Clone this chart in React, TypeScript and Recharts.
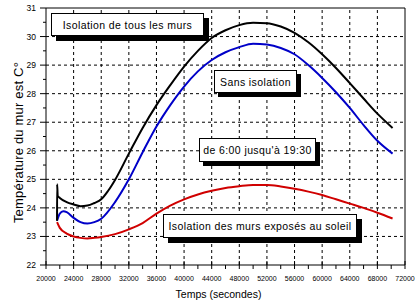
import React from 'react';
import { LineChart, Line, XAxis, YAxis, ReferenceLine } from 'recharts';

// time in seconds (6:00 = 21600 s, 19:30 = 70200 s)
const allWallsTimes = [21600, 21610, 21700, 22000, 23000, 24000, 25000, 26000, 27000, 28000, 29000, 30000, 32000, 34000, 36000, 38000, 40000, 42000, 44000, 46000, 48000, 50000, 52000, 54000, 56000, 58000, 60000, 62000, 64000, 66000, 68000, 70200];
const allWallsTemps = [23.55, 24.83, 24.42, 24.35, 24.2, 24.12, 24.06, 24.08, 24.17, 24.3, 24.6, 24.98, 25.9, 26.8, 27.6, 28.3, 28.95, 29.5, 29.95, 30.22, 30.4, 30.48, 30.47, 30.35, 30.13, 29.8, 29.38, 28.9, 28.37, 27.83, 27.3, 26.8];

const noInsulationTimes = [21600, 22000, 22500, 23000, 24000, 25000, 26000, 27000, 28000, 30000, 32000, 34000, 36000, 38000, 40000, 42000, 44000, 46000, 48000, 50000, 52000, 54000, 56000, 58000, 60000, 62000, 64000, 66000, 68000, 70200];
const noInsulationTemps = [23.55, 23.8, 23.88, 23.85, 23.65, 23.5, 23.45, 23.5, 23.62, 24.2, 25.0, 25.95, 26.85, 27.6, 28.25, 28.78, 29.18, 29.45, 29.63, 29.75, 29.72, 29.6, 29.38, 29.0, 28.55, 28.05, 27.5, 26.9, 26.35, 25.9];

const sunWallsTimes = [21600, 22000, 23000, 24000, 25000, 26000, 27000, 28000, 30000, 32000, 34000, 36000, 38000, 40000, 42000, 44000, 46000, 48000, 50000, 52000, 54000, 56000, 58000, 60000, 62000, 64000, 66000, 68000, 70200];
const sunWallsTemps = [23.5, 23.3, 23.1, 23.0, 22.95, 22.93, 22.95, 22.98, 23.08, 23.25, 23.47, 23.8, 24.08, 24.3, 24.47, 24.6, 24.7, 24.76, 24.8, 24.8, 24.75, 24.67, 24.57, 24.45, 24.3, 24.15, 24.0, 23.83, 23.63];

const yTicks = [22, 22.5, 23, 23.5, 24, 24.5, 25, 25.5, 26, 26.5, 27, 27.5, 28, 28.5, 29, 29.5, 30, 30.5, 31];
const xTicks = [20000, 22000, 24000, 26000, 28000, 30000, 32000, 34000, 36000, 38000, 40000, 42000, 44000, 46000, 48000, 50000, 52000, 54000, 56000, 58000, 60000, 62000, 64000, 66000, 68000, 70000, 72000];
const yGrid = [23, 24, 25, 26, 27, 28, 29, 30];
const xGrid = [24000, 28000, 32000, 36000, 40000, 44000, 48000, 52000, 56000, 60000, 64000, 68000];

const toRows = (times: number[], temps: number[]) => times.map((t, i) => ({ t, v: temps[i] }));

const YTick = ({ x, y, payload }: any) => {
  const major = Number.isInteger(payload.value);
  return (
    <g>
      <line x1={x - (major ? 6 : 3)} x2={x} y1={y} y2={y} stroke="#000" />
      {major && (
        <text x={x - 10} y={y} textAnchor="end" dominantBaseline="central" fontSize={8.5} fill="#000">
          {payload.value}
        </text>
      )}
    </g>
  );
};

const XTick = ({ x, y, payload }: any) => {
  const major = payload.value % 4000 === 0;
  return (
    <g>
      <line x1={x} x2={x} y1={major ? y - 4 : y} y2={y + 4} stroke="#000" />
      {major && (
        <text x={x} y={y + 16} textAnchor="middle" fontSize={7} fill="#000">
          {payload.value}
        </text>
      )}
    </g>
  );
};

const YLabel = ({ viewBox }: any) => {
  const cx = 22.5;
  const cy = viewBox.y + viewBox.height / 2 + 6;
  return (
    <text x={cx} y={cy} transform={`rotate(-90 ${cx} ${cy})`} textAnchor="middle" fontSize={13} letterSpacing={0.2} fill="#000">
      Température du mur est C°
    </text>
  );
};

const XLabel = ({ viewBox }: any) => (
  <text x={viewBox.x + viewBox.width / 2 - 7} y={298} textAnchor="middle" fontSize={10.5} fill="#000">
    Temps (secondes)
  </text>
);

const boxStyle = (left: number, top: number, width: number, height: number): React.CSSProperties => ({
  position: 'absolute',
  left,
  top,
  width,
  height,
  boxSizing: 'border-box',
  border: '1px solid #000',
  background: '#fff',
  boxShadow: '5px 5px 0 #000',
  fontSize: 10.5,
  letterSpacing: 0.4,
  display: 'flex',
  alignItems: 'center',
  justifyContent: 'center',
  whiteSpace: 'nowrap',
});

export default function App() {
  return (
    <div style={{ position: 'absolute', left: 0, top: 0, width: 415, height: 303, background: '#fff', fontFamily: '"Liberation Sans", Arial, sans-serif' }}>
      <LineChart width={415} height={303} margin={{ top: 8, right: 10, bottom: 0, left: 0 }}>
        <XAxis
          type="number"
          dataKey="t"
          domain={[20000, 72000]}
          ticks={xTicks}
          interval={0}
          allowDataOverflow
          tick={<XTick />}
          tickLine={false}
          tickSize={0}
          tickMargin={0}
          height={38}
          axisLine={{ stroke: '#000' }}
          label={<XLabel />}
        />
        <YAxis
          type="number"
          domain={[22, 31]}
          ticks={yTicks}
          interval={0}
          allowDataOverflow
          tick={<YTick />}
          tickLine={false}
          tickSize={0}
          tickMargin={0}
          width={46}
          axisLine={{ stroke: '#000' }}
          label={<YLabel />}
        />
        {yGrid.map((v) => (
          <ReferenceLine key={`h${v}`} y={v} stroke="#000" strokeDasharray="3 3" />
        ))}
        {xGrid.map((v) => (
          <ReferenceLine key={`v${v}`} x={v} stroke="#000" strokeDasharray="3 3" />
        ))}
        <ReferenceLine y={31} stroke="#000" />
        <ReferenceLine x={72000} stroke="#000" />
        <Line data={toRows(sunWallsTimes, sunWallsTemps)} dataKey="v" type="monotone" stroke="#d00000" strokeWidth={2} dot={false} isAnimationActive={false} />
        <Line data={toRows(noInsulationTimes, noInsulationTemps)} dataKey="v" type="monotone" stroke="#0000c8" strokeWidth={2} dot={false} isAnimationActive={false} />
        <Line data={toRows(allWallsTimes, allWallsTemps)} dataKey="v" type="monotone" stroke="#000" strokeWidth={2} dot={false} isAnimationActive={false} />
      </LineChart>
      <div style={boxStyle(51, 13, 153, 23)}>Isolation de tous les murs</div>
      <div style={{ ...boxStyle(214, 70, 83, 23), boxShadow: '4px 4px 0 #000' }}>Sans isolation</div>
      <div style={{ ...boxStyle(199, 138, 117, 24), boxShadow: '4px 4px 0 #000' }}>de 6:00 jusqu'à 19:30</div>
      <div style={boxStyle(163, 214, 194, 24)}>Isolation des murs exposés au soleil</div>
    </div>
  );
}
